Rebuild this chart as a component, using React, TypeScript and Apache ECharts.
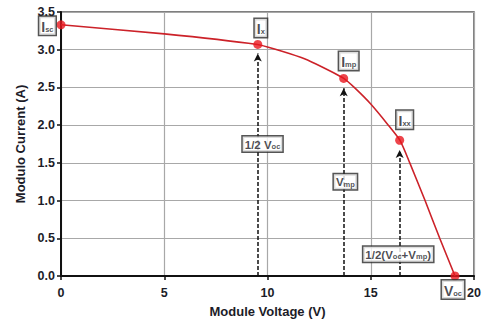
import React, { useEffect, useRef } from "react";
import * as echarts from "echarts";

// I-V curve of the module
const curveV = [0, 5, 9.51, 10.34, 11.6, 12.35, 13.69, 14.2, 15, 15.85, 16.41, 16.89, 17.63, 18.34, 19.08];
const curveI = [3.33, 3.21, 3.07, 3.01, 2.9, 2.81, 2.62, 2.5, 2.28, 2.0, 1.8, 1.5, 1.0, 0.5, 0];

// key points: Isc, Ix, Imp, Ixx, Voc
const keyV = [0, 9.53, 13.69, 16.4, 19.08];
const keyI = [3.33, 3.07, 2.62, 1.8, 0];
const keyLabels = ["{b|I}{s|sc}", "{b|I}{s|x}", "{b|I}{s|mp}", "{b|I}{s|xx}", "{b|V}{s|oc}"];

// voltage markers with dashed arrows (1/2 Voc, Vmp, 1/2(Voc+Vmp))
const arrowV = [9.53, 13.69, 16.4];
const arrowTopI = [2.95, 2.49, 1.67];
const arrowLabels = ["{t|1/2 V}{s|oc}", "{t|V}{s|mp}", "{t|1/2(V}{s|oc}{t|+V}{s|mp}{t|)}"];
const arrowLabelV = [9.76, 13.77, 16.33];
const arrowLabelI = [1.75, 1.25, 0.29];

const xTicks = [0, 5, 10, 15, 20];
const yTicks = [0, 0.5, 1, 1.5, 2, 2.5, 3, 3.5];

const TEXT = "#1c1c28";
const LINE_RED = "#cc2229";
const DOT_RED = "#e8161e";
const FONT = "Liberation Sans, Arial, sans-serif";

const richBox = {
  b: { fontFamily: FONT, fontWeight: "bold", fontSize: 14, color: TEXT, lineHeight: 16, verticalAlign: "bottom" },
  t: { fontFamily: FONT, fontWeight: "bold", fontSize: 11.5, color: TEXT, lineHeight: 13, verticalAlign: "bottom" },
  s: { fontFamily: FONT, fontWeight: "bold", fontSize: 7.5, color: TEXT, lineHeight: 9, verticalAlign: "bottom" },
};

const boxStyle = {
  backgroundColor: "#fff",
  borderColor: "#2a2a2a",
  borderWidth: 1.5,
  padding: [1, 2, 1, 2],
  rich: richBox,
};

const keyPos: any[] = [
  { position: "left", distance: 1, offset: [0, 1] },
  { position: "top", distance: 3, offset: [3, 0] },
  { position: "top", distance: 4, offset: [5, 0] },
  { position: "top", distance: 7, offset: [5, 0] },
  { position: "bottom", distance: 0, offset: [-2, 0] },
];

export default function App() {
  const ref = useRef<HTMLDivElement>(null);
  useEffect(() => {
    if (!ref.current) return;
    const chart = echarts.init(ref.current, null, { renderer: "svg" });
    const option: any = {
      animation: false,
      backgroundColor: "#fff",
      grid: {
        left: 61,
        right: 10,
        top: 12,
        bottom: 51,
        show: true,
        borderColor: "#555",
        borderWidth: 1.5,
      },
      xAxis: {
        type: "value",
        min: 0,
        max: 20,
        interval: 5,
        name: "Module Voltage (V)",
        nameLocation: "middle",
        nameGap: 29,
        nameTextStyle: { fontFamily: FONT, fontWeight: "bold", fontSize: 13, color: TEXT },
        axisLine: { show: true, lineStyle: { color: "#111", width: 2 } },
        axisTick: { show: true, length: 4, lineStyle: { color: "#111", width: 1.5 } },
        axisLabel: {
          margin: 10,
          fontFamily: FONT,
          fontWeight: "bold",
          fontSize: 12.5,
          color: TEXT,
          formatter: (v: number) => (xTicks.includes(v) ? String(v) : ""),
        },
        splitLine: { show: true, lineStyle: { color: "#a8a8a8", width: 1.2 } },
      },
      yAxis: {
        type: "value",
        min: 0,
        max: 3.5,
        interval: 0.5,
        name: "Modulo Current (A)",
        nameLocation: "middle",
        nameGap: 33,
        nameRotate: 90,
        nameTextStyle: { fontFamily: FONT, fontWeight: "bold", fontSize: 13, color: TEXT },
        axisLine: { show: true, lineStyle: { color: "#111", width: 2 } },
        axisTick: { show: true, length: 4, lineStyle: { color: "#111", width: 1.5 } },
        axisLabel: {
          margin: 6,
          fontFamily: FONT,
          fontWeight: "bold",
          fontSize: 12.5,
          color: TEXT,
          formatter: (v: number) => (yTicks.includes(v) ? v.toFixed(1) : ""),
        },
        splitLine: { show: true, lineStyle: { color: "#a8a8a8", width: 1.2 } },
      },
      series: [
        {
          type: "line",
          data: curveV.map((v, i) => [v, curveI[i]]),
          showSymbol: false,
          smooth: 0.2,
          lineStyle: { color: LINE_RED, width: 1.6 },
          z: 3,
          markLine: {
            silent: true,
            symbol: ["none", "arrow"],
            symbolSize: [6, 8],
            label: { show: false },
            lineStyle: { color: "#111", width: 1.5, type: [4, 2] },
            data: arrowV.map((v, i) => [
              { coord: [v, 0] },
              { coord: [v, arrowTopI[i]] },
            ]),
          },
        },
        {
          type: "scatter",
          data: arrowLabelV.map((v, i) => ({
            value: [v, arrowLabelI[i]],
            label: { formatter: arrowLabels[i] },
          })),
          symbolSize: 0,
          z: 6,
          label: {
            show: true,
            position: "inside",
            ...boxStyle,
          },
        },
        {
          type: "scatter",
          clip: false,
          data: keyV.map((v, i) => ({
            value: [v, keyI[i]],
            label: { formatter: keyLabels[i], ...keyPos[i] },
          })),
          symbol: "circle",
          symbolSize: 9,
          itemStyle: { color: DOT_RED },
          z: 7,
          label: {
            show: true,
            ...boxStyle,
          },
        },
      ],
    };
    chart.setOption(option);
    return () => chart.dispose();
  }, []);
  return (
    <div
      ref={ref}
      style={{ position: "fixed", left: 0, top: 0, width: 484, height: 327 }}
    />
  );
}
